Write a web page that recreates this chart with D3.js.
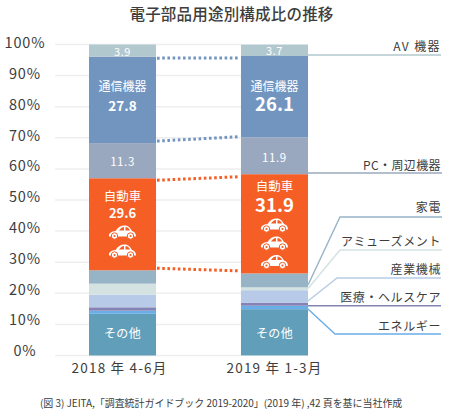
<!DOCTYPE html>
<html><head><meta charset="utf-8">
<script src="https://cdn.jsdelivr.net/npm/d3@7"></script>
<style>
html,body{margin:0;padding:0;background:#fff}
svg{display:block}
text{font-family:"Noto Sans CJK JP","Noto Sans",sans-serif}
</style></head><body><svg id="c" width="450" height="410"></svg>
<script>
const periods = ["2018 年 4-6月", "2019 年 1-3月"];
const segments = ["その他","エネルギー","医療・ヘルスケア","産業機械","アミューズメント","家電","自動車","PC・周辺機器","通信機器","AV 機器"];
const values2018 = [13.4,1.0,1.1,4.0,3.6,4.3,29.6,11.3,27.8,3.9];
const values2019 = [14.9,1.1,1.0,4.0,0.9,4.5,31.9,11.9,26.1,3.7];
const colors = ["#619eba","#6aaee8","#8583b5","#b7cbe8","#d4e2e2","#97b4c6","#f55e25","#9aa8bf","#7295bf","#b2c8cf"];
const yTicks = [0,10,20,30,40,50,60,70,80,90,100];
const carCounts = [2,3];
const legendLabels = ["AV 機器","PC・周辺機器","家電","アミューズメント","産業機械","医療・ヘルスケア","エネルギー"];
const title = "電子部品用途別構成比の推移";
const footnote = "(図 3) JEITA,「調査統計ガイドブック 2019-2020」(2019 年) ,42 頁を基に当社作成";

// layout / styling (not data)
const legendLabelY = [51,170,212,246,274,302,331];
const legendLabelSpacing = [1.4,0.4,0.6,0.6,0.6,0.6,0.6];
const legendLineColors = ["#b2c8cf","#9aa8bf","#97b4c6","#d4e2e2","#b7cbe8","#8583b5","#6aaee8"];
const legendStartY = [55,173,285,288.5,301,305.7,309];
const legendElbowX = [308,308,340,340,337,308,335];
const legendLineY = [55,173,217,250,278,305.7,334];
const legendLineEnd = [441,442,442,442,441,441,441];
const carY = [[232,251],[225,243,261.5]];
const xLabelDx = [-3,0];
const conn = [[8,"#7295bf",1.5,2],[7,"#7295bf",-2,-0.5],[6,"#f55e25",2,2.5],[5,"#f55e25",-2,-2.5]];

const all = [values2018, values2019];
const svg = d3.select("#c");
const x = d3.scaleBand().domain(periods).range([89,308]).paddingInner(0.559).paddingOuter(0);
const y = d3.scaleLinear().domain([0,100]).range([355.5,44.5]);
const yLabel = d3.scaleLinear().domain([0,100]).range([351,43]);

svg.append("text").attr("x",231.5).attr("y",20).attr("text-anchor","middle")
  .attr("font-size",15.5).attr("font-weight",500).attr("fill","#3d3d3d").attr("letter-spacing",0.2).text(title);

// grid
svg.append("g").selectAll("line").data(yTicks).join("line")
  .attr("x1",55).attr("x2",241).attr("y1",d=>y(d)).attr("y2",d=>y(d))
  .attr("stroke","#eeeeee").attr("stroke-width",1.5);

// y axis (labels sit on their own, slightly tighter scale, centred in the margin)
const yAxis = d3.axisLeft(yLabel).tickValues(yTicks).tickFormat(d=>d+"%").tickSize(0).tickPadding(0);
const gy = svg.append("g").attr("transform","translate(25,0)").call(yAxis);
gy.select(".domain").remove();
gy.selectAll("text").attr("text-anchor","middle").attr("font-size",14.5).attr("fill","#3d3d3d").attr("letter-spacing",0.9)
  .attr("font-family",'"Noto Sans",sans-serif');

// stacks
const stacks = all.map(v=>{let c=0;return v.map(d=>{const s={y0:c,y1:c+d,v:d};c+=d;return s;});});

// dotted connectors
conn.forEach(([j,c,d0,d1])=>{
  svg.append("line")
    .attr("x1",x(periods[0])+x.bandwidth()+1).attr("x2",x(periods[1])-1)
    .attr("y1",y(stacks[0][j].y1)+d0).attr("y2",y(stacks[1][j].y1)+d1)
    .attr("stroke",c).attr("stroke-width",3).attr("stroke-dasharray","2.6 2.6");
});

periods.forEach((p,i)=>{
  svg.append("g").selectAll("rect").data(stacks[i]).join("rect")
    .attr("x",x(p)).attr("width",x.bandwidth())
    .attr("y",d=>y(d.y1)).attr("height",d=>y(d.y0)-y(d.y1))
    .attr("fill",(d,j)=>colors[j]);
});

// leader lines and labels
legendLabels.forEach((lab,k)=>{
  const bx = x(periods[1])+x.bandwidth();
  const pts = [[bx,legendStartY[k]],[legendElbowX[k],legendLineY[k]],[legendLineEnd[k],legendLineY[k]]];
  svg.append("path").attr("d",d3.line()(pts)).attr("fill","none")
    .attr("stroke",legendLineColors[k]).attr("stroke-width",1.4);
  svg.append("text").attr("x",441).attr("y",legendLabelY[k]).attr("text-anchor","end")
    .attr("font-size",12).attr("fill","#3d3d3d").attr("letter-spacing",legendLabelSpacing[k]).text(lab);
});

// x labels
periods.forEach((p,i)=>{
  svg.append("text").attr("x",x(p)+x.bandwidth()/2+xLabelDx[i]).attr("y",373).attr("text-anchor","middle")
    .attr("font-size",13.5).attr("letter-spacing",1.2).attr("fill","#3d3d3d").text(p);
});

// in-bar labels
const cx = p=>x(p)+x.bandwidth()/2;
function t(p,yy,str,size,w,fill,ls){
  svg.append("text").attr("x",cx(p)).attr("y",yy).attr("text-anchor","middle")
    .attr("font-size",size).attr("font-weight",w||400).attr("fill",fill||"#fff")
    .attr("letter-spacing",ls||0).text(str);
}
const fmt = d3.format(".1f");
const ix = n=>segments.indexOf(n);
t(periods[0],55.5,fmt(values2018[ix("AV 機器")]),11,400,"#fff",0.5);
t(periods[1],55,fmt(values2019[ix("AV 機器")]),11,400,"#fff",0.5);
t(periods[0],91,"通信機器",12);
t(periods[1],91,"通信機器",12);
t(periods[0],110.5,fmt(values2018[ix("通信機器")]),13.5,700);
t(periods[1],111,fmt(values2019[ix("通信機器")]),18.5,700);
t(periods[0],165.5,fmt(values2018[ix("PC・周辺機器")]),11.5,400,"#fff",0.6);
t(periods[1],161.5,fmt(values2019[ix("PC・周辺機器")]),11.5,400,"#fff",0.6);
t(periods[0],200.5,"自動車",12.5);
t(periods[1],190.5,"自動車",12.5);
t(periods[0],218,fmt(values2018[ix("自動車")]),13,700);
t(periods[1],212,fmt(values2019[ix("自動車")]),18.5,700);
t(periods[0],337.5,"その他",12,400,"#fff",0.4);
t(periods[1],337.5,"その他",12,400,"#fff",0.4);

// car icons
const carPath = "M-13.5,4.5 C-14,1 -11,-0.5 -7,-1 C-4.5,-5 -1.5,-6.5 2,-6.5 C6,-6.5 8,-4 9.5,-1 C12,-0.5 13.5,1.5 13.5,4.5 Z";
function car(px,py){
  const g = svg.append("g").attr("transform",`translate(${px},${py})`);
  g.append("path").attr("d",carPath).attr("fill","#fff");
  g.append("path").attr("d","M-3.5,-1.5 C-2,-4 0,-5 1.5,-5 L1.5,-1.5 Z M3,-5 C5,-5 6.5,-3.5 7.5,-1.5 L3,-1.5 Z").attr("fill","#f55e25");
  [-8,8].forEach(dx=>{
    g.append("circle").attr("cx",dx).attr("cy",4).attr("r",3.2).attr("fill","#fff").attr("stroke","#f55e25").attr("stroke-width",1);
    g.append("circle").attr("cx",dx).attr("cy",4).attr("r",1.1).attr("fill","#f55e25");
  });
}
periods.forEach((p,i)=>{ d3.range(carCounts[i]).forEach(n=>car(cx(p),carY[i][n])); });

svg.append("text").attr("x",40).attr("y",407).attr("font-size",10).attr("fill","#3d3d3d").attr("letter-spacing",-0.05).text(footnote);
</script></body></html>
